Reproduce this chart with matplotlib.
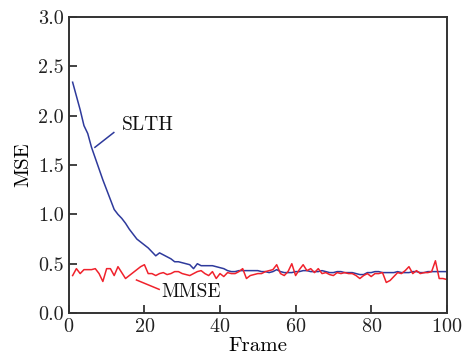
import matplotlib
matplotlib.use("Agg")
from matplotlib import pyplot as plt

plt.rcParams['font.family'] = ['cmr10', 'DejaVu Serif']
plt.rcParams['mathtext.fontset'] = 'cm'
plt.rcParams['axes.formatter.use_mathtext'] = True

frames = list(range(1, 101))

slth = [2.34, 2.20, 2.06, 1.90, 1.82, 1.68, 1.57, 1.46, 1.35, 1.25,
        1.15, 1.05, 1.00, 0.96, 0.91, 0.85, 0.80, 0.75, 0.72, 0.69,
        0.66, 0.62, 0.58, 0.61, 0.59, 0.57, 0.55, 0.52, 0.52, 0.51,
        0.50, 0.49, 0.45, 0.50, 0.48, 0.48, 0.48, 0.48, 0.47, 0.46,
        0.45, 0.43, 0.42, 0.42, 0.43, 0.43, 0.43, 0.43, 0.43, 0.43,
        0.42, 0.42, 0.41, 0.42, 0.44, 0.42, 0.41, 0.41, 0.41, 0.42,
        0.42, 0.43, 0.43, 0.42, 0.42, 0.42, 0.43, 0.42, 0.41, 0.41,
        0.42, 0.42, 0.41, 0.41, 0.41, 0.40, 0.39, 0.39, 0.41, 0.41,
        0.42, 0.42, 0.41, 0.41, 0.41, 0.41, 0.42, 0.41, 0.41, 0.41,
        0.42, 0.42, 0.41, 0.41, 0.42, 0.42, 0.42, 0.42, 0.42, 0.42]

mmse = [0.38, 0.45, 0.40, 0.44, 0.44, 0.44, 0.45, 0.40, 0.32, 0.45,
        0.45, 0.38, 0.47, 0.41, 0.35, 0.38, 0.41, 0.44, 0.47, 0.49,
        0.40, 0.40, 0.38, 0.40, 0.41, 0.39, 0.40, 0.42, 0.42, 0.40,
        0.39, 0.38, 0.40, 0.42, 0.43, 0.40, 0.38, 0.42, 0.35, 0.40,
        0.37, 0.41, 0.40, 0.40, 0.42, 0.45, 0.35, 0.38, 0.39, 0.40,
        0.40, 0.42, 0.43, 0.44, 0.49, 0.40, 0.38, 0.42, 0.50, 0.38,
        0.44, 0.49, 0.43, 0.45, 0.41, 0.45, 0.40, 0.41, 0.39, 0.38,
        0.41, 0.40, 0.41, 0.40, 0.40, 0.38, 0.35, 0.38, 0.40, 0.37,
        0.40, 0.40, 0.41, 0.31, 0.33, 0.37, 0.41, 0.40, 0.43, 0.47,
        0.40, 0.43, 0.40, 0.41, 0.41, 0.42, 0.53, 0.35, 0.35, 0.34]

xticks = [0, 20, 40, 60, 80, 100]
yticks = [0.0, 0.5, 1.0, 1.5, 2.0, 2.5, 3.0]

fig = plt.figure(figsize=(4.62, 3.64), dpi=100)
ax = fig.add_axes([0.149, 0.140, 0.818, 0.813])

ax.plot(frames, slth, color="#2e3a9c", lw=1.1)
ax.plot(frames, mmse, color="#f0222c", lw=1.1)

# labels with pointer lines
ax.plot([6.9, 11.9], [1.68, 1.83], color="#2e3a9c", lw=1.1)
ax.text(14.0, 1.91, "SLTH", fontsize=14, va="center", ha="left", color="#111111")
ax.plot([17.9, 23.9], [0.335, 0.24], color="#f0222c", lw=1.1)
ax.text(24.5, 0.215, "MMSE", fontsize=14, va="center", ha="left", color="#111111")

ax.set_xlim(0, 100)
ax.set_ylim(0, 3.0)
ax.set_xticks(xticks)
ax.set_yticks(yticks)
ax.set_yticklabels(["%.1f" % v for v in yticks])
ax.tick_params(direction="in", length=6, width=1.2, labelsize=14.5,
               colors="#222222", top=False, right=False)
for s in ax.spines.values():
    s.set_linewidth(1.4)
    s.set_color("#333333")

ax.set_xlabel("Frame", fontsize=15, labelpad=1)
ax.set_ylabel("MSE", fontsize=15, labelpad=4)

fig.savefig("out.png", dpi=100)
